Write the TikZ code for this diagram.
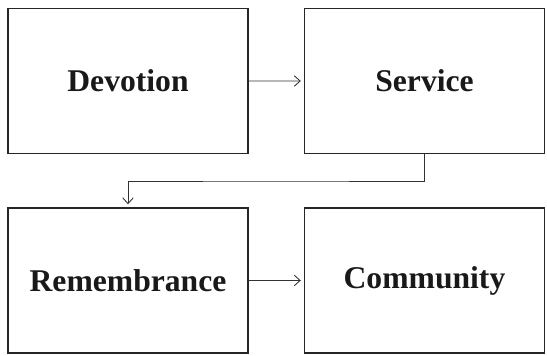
\documentclass[tikz,border=0pt]{standalone}
\usepackage{fontspec}
\setmainfont{Liberation Serif}
\usepackage{tikz}
\usetikzlibrary{arrows.meta}

\begin{document}
\begin{tikzpicture}[xscale=0.03, yscale=-0.03,
    stage/.style={draw=black!85, line width=1.3pt, minimum width=7.2cm, minimum height=4.35cm,
        font=\fontsize{27}{32}\selectfont\bfseries, text=black!90},
    link/.style={draw=black!80, line width=0.75pt, shorten >=2.5pt,
        -{Straight Barb[length=5pt, width=9pt, line width=0.75pt]}}]
\useasboundingbox (0,0) rectangle (547,355);
\node[stage] (dev) at (128,81) {Devotion};
\node[stage] (serv) at (424.5,81) {Service};
\node[stage] (rem) at (128,280.5) {Remembrance};
\node[stage] (comm) at (424.5,280.5) {Community};
\coordinate (turn) at (276,181);
\draw[link] (dev) -- (serv);
\draw[link] (serv.south) |- (turn) -| (rem.north);
\draw[link] (rem) -- (comm);
\end{tikzpicture}
\end{document}
